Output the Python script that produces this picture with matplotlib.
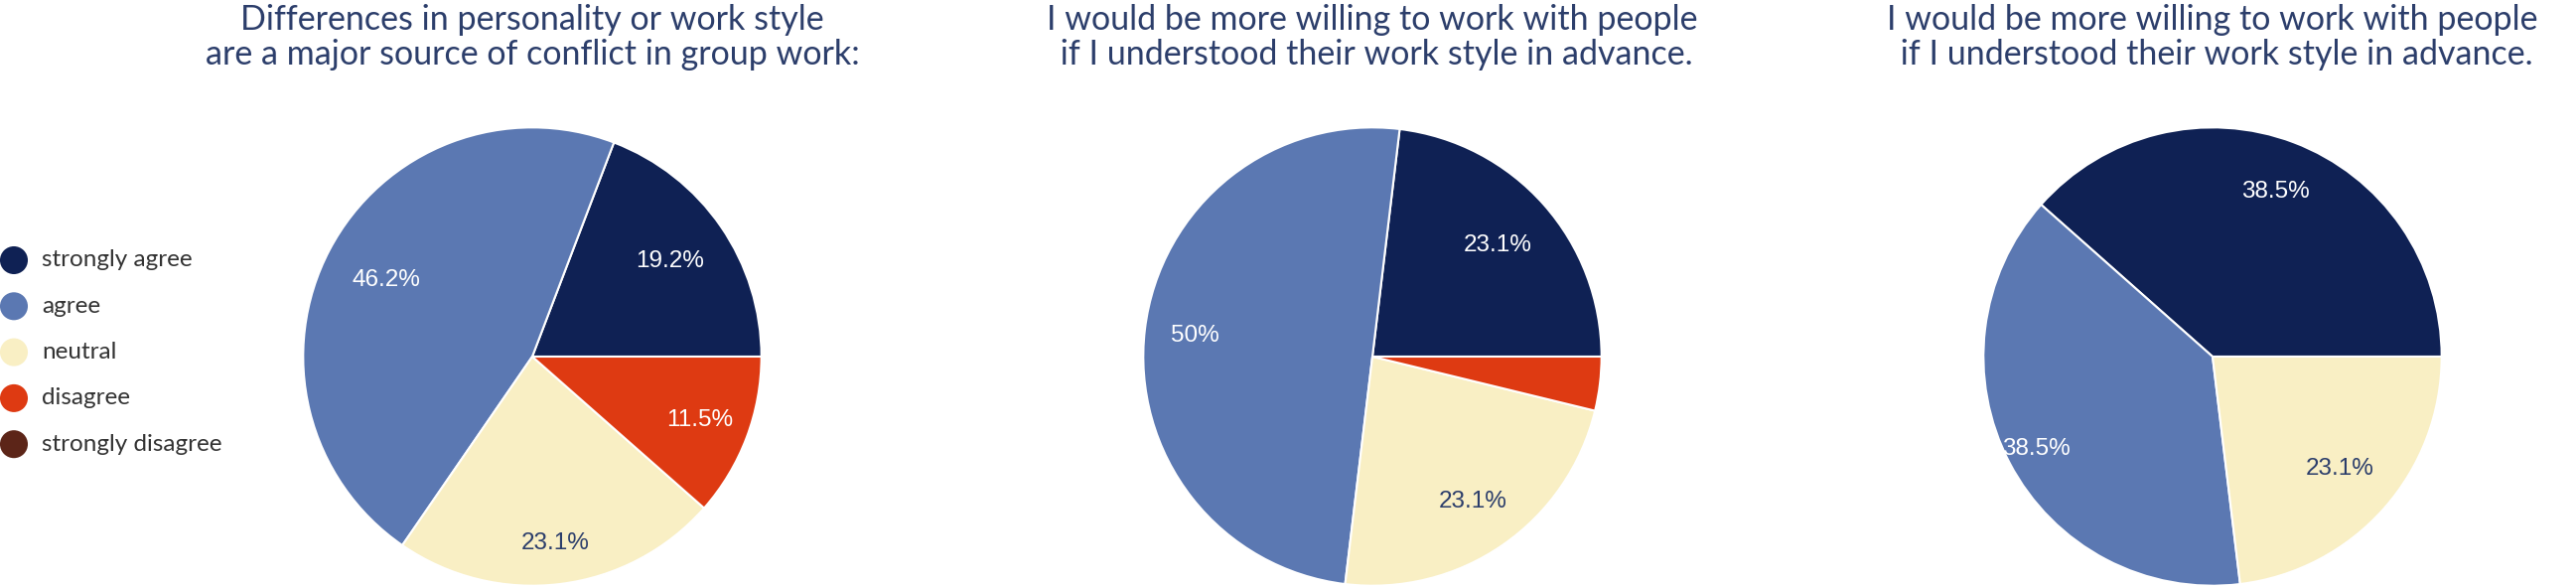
import numpy as np
import matplotlib
matplotlib.use("Agg")
import matplotlib.pyplot as plt

# survey answers, share of respondents (%)
categories = ["strongly agree", "agree", "neutral", "disagree", "strongly disagree"]
colors = ["#0f2154", "#5b78b2", "#f9efc4", "#de3a12", "#5c2518"]
label_colors = ["white", "white", "#2c3e6b", "white", "white"]

titles = [
    "Differences in personality or work style\nare a major source of conflict in group work:",
    "I would be more willing to work with people\n if I understood their work style in advance.",
    "I would be more willing to work with people\n if I understood their work style in advance.",
]
q1_values = [19.2, 46.2, 23.1, 11.5, 0.0]
q2_values = [23.1, 50.0, 23.1, 3.8, 0.0]
q3_values = [38.5, 38.5, 23.1, 0.0, 0.0]

# how far out each percentage label sits (fraction of radius)
label_dist = [
    [0.73, 0.72, 0.82, 0.78, 0.75],
    [0.73, 0.78, 0.77, 0.75, 0.75],
    [0.77, 0.87, 0.74, 0.75, 0.75],
]

W, H = 2594, 592
fig = plt.figure(figsize=(W / 100, H / 100), dpi=100)
title_color = "#2c3e6b"
font = "Lato"

def fmt(p):
    r = round(p, 1)
    return ("%d%%" % r) if r == int(r) else ("%.1f%%" % r)

centers_x = [536, 1382, 2228]
cy = 359
R = 233

for cx, vals, title, dists in zip(centers_x, [q1_values, q2_values, q3_values], titles, label_dist):
    ax = fig.add_axes([(cx - R) / W, (H - cy - R) / H, 2 * R / W, 2 * R / H])
    vals = np.array(vals)
    idx = [i for i in range(len(vals)) if vals[i] > 0]
    wedges, _ = ax.pie(
        vals[idx], colors=[colors[i] for i in idx],
        startangle=0, counterclock=True,
        wedgeprops=dict(edgecolor="white", linewidth=1.5))
    share = vals / vals.sum() * 100
    for w, i in zip(wedges, idx):
        if share[i] < 5:
            continue
        mid = np.deg2rad((w.theta1 + w.theta2) / 2)
        d = dists[i]
        ax.text(d * np.cos(mid), d * np.sin(mid), fmt(vals[i]), ha="center", va="center",
                fontsize=17.5, color=label_colors[i], family="Liberation Sans")
    ax.set_xlim(-1.01, 1.01)
    ax.set_ylim(-1.01, 1.01)
    ax.set_aspect("equal")
    ax.axis("off")
    fig.text(cx / W, 1 - 4 / H, title, ha="center", va="top", fontsize=24.5,
             color=title_color, family=font, linespacing=1.12)

# legend in pixel coordinates
lax = fig.add_axes([0, 0, 1, 1])
lax.set_xlim(0, W)
lax.set_ylim(H, 0)
lax.axis("off")
for i, (cat, col) in enumerate(zip(categories, colors)):
    y = 262 + i * 46.3
    lax.scatter([14], [y], s=28 ** 2 * 0.52, color=col, edgecolor="none")
    lax.text(42, y, cat, va="center", ha="left", fontsize=17.5, color="#333333", family=font)

fig.savefig("out.png", dpi=100)
